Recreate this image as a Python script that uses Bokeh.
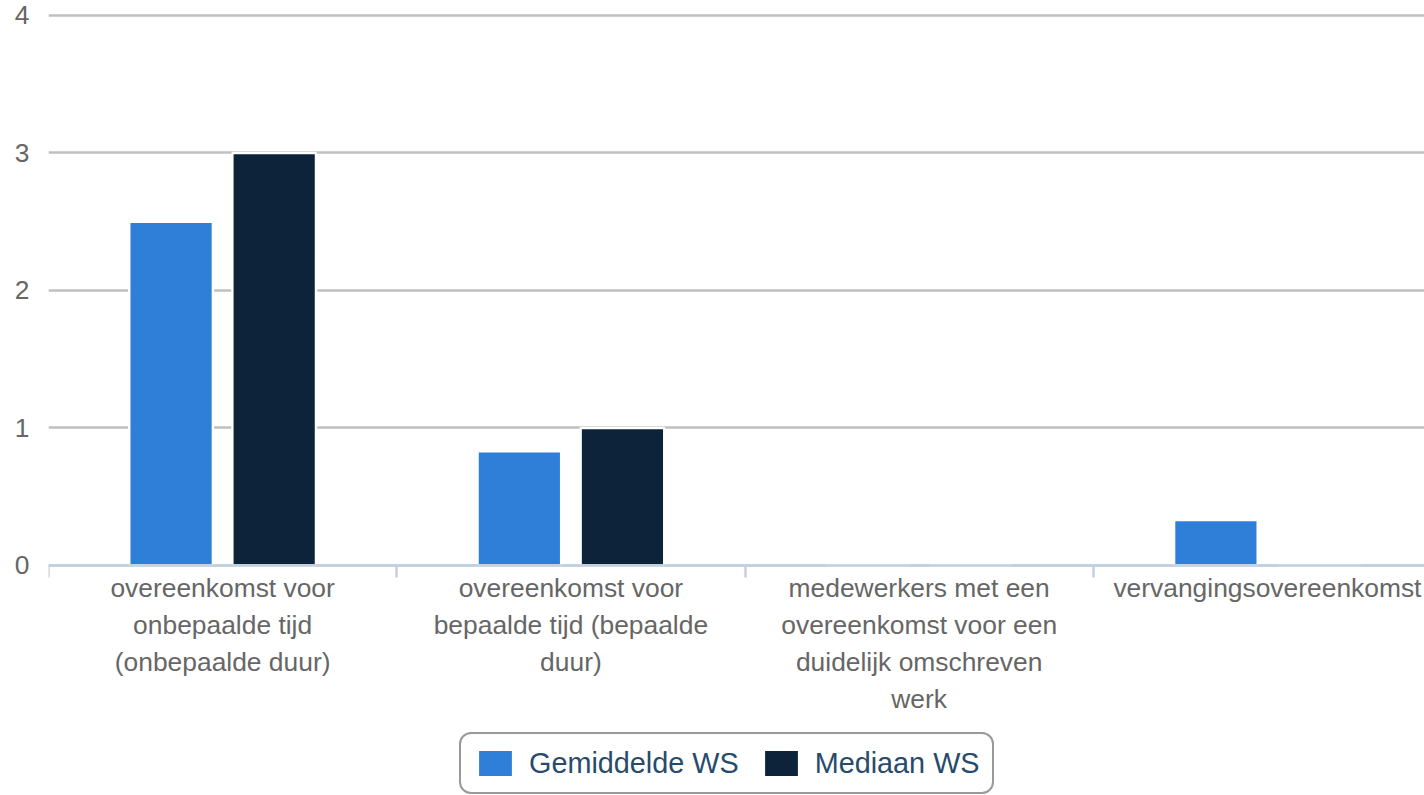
from bokeh.plotting import figure
from bokeh.models import (Range1d, FixedTicker, Legend, LegendItem,
                          ColumnDataSource)
from bokeh.transform import dodge
from bokeh.embed import file_html
from bokeh.resources import INLINE

categories = [
    "overeenkomst voor\nonbepaalde tijd\n(onbepaalde duur)",
    "overeenkomst voor\nbepaalde tijd (bepaalde\nduur)",
    "medewerkers met een\novereenkomst voor een\nduidelijk omschreven\nwerk",
    "vervangingsovereenkomst",
]
gemiddelde_ws = [2.5, 0.83, 0.0, 0.33]
mediaan_ws = [3.0, 1.0, 0.0, 0.0]
y_ticks = [0, 1, 2, 3, 4]

FONT = "Liberation Sans"
idx = list(range(len(categories)))
src = ColumnDataSource(dict(x=idx, gem=gemiddelde_ws, med=mediaan_ws))

# frame covers the whole lower area; the x axis is pinned at y = 0
p = figure(width=1424, height=795, output_backend="svg", toolbar_location=None,
           x_range=Range1d(-0.5, 3.451), y_range=Range1d(-1.6727, 4.036),
           min_border_left=48, min_border_top=10, min_border_right=0,
           min_border_bottom=0)
p.outline_line_color = None
p.background_fill_color = "white"
p.border_fill_color = "white"

r1 = p.vbar(x=dodge("x", -0.148, range=p.x_range), top="gem", width=0.24,
            source=src, fill_color="#2f7ed8", line_color="white", line_width=2.4)
r2 = p.vbar(x=dodge("x", 0.148, range=p.x_range), top="med", width=0.24,
            source=src, fill_color="#0d233a", line_color="white", line_width=2.4)

# x axis
xa = p.xaxis[0]
xa.fixed_location = 0
xa.ticker = FixedTicker(ticks=idx, minor_ticks=[i - 0.5 for i in idx])
xa.major_label_overrides = {i: c for i, c in zip(idx, categories)}
xa.axis_line_color = "#c0d0e0"
xa.axis_line_width = 2.4
xa.major_tick_line_color = None
xa.major_tick_out = 12
xa.major_tick_in = 0
xa.minor_tick_line_color = "#c0d0e0"
xa.minor_tick_line_width = 2.4
xa.minor_tick_out = 12
xa.minor_tick_in = 0
xa.major_label_standoff = -4
xa.major_label_text_font = FONT
xa.major_label_text_font_size = "26.4px"
xa.major_label_text_color = "#666666"
xa.major_label_text_line_height = 1.23
xa.major_label_orientation = "horizontal"

# y axis
ya = p.yaxis[0]
ya.ticker = FixedTicker(ticks=y_ticks)
ya.axis_line_color = None
ya.major_tick_line_color = None
ya.minor_tick_line_color = None
ya.major_tick_out = 0
ya.major_tick_in = 0
ya.major_label_standoff = 19
ya.major_label_text_font = FONT
ya.major_label_text_font_size = "26.4px"
ya.major_label_text_color = "#666666"

p.xgrid.grid_line_color = None
p.ygrid.grid_line_color = "#c0c0c0"
p.ygrid.grid_line_width = 2.4

legend = Legend(items=[LegendItem(label="Gemiddelde WS", renderers=[r1]),
                       LegendItem(label="Mediaan WS", renderers=[r2])],
                orientation="horizontal", location=(411, 1))
legend.label_text_font = FONT
legend.label_text_font_size = "28.8px"
legend.label_text_color = "#274b6d"
legend.border_line_color = "#999999"
legend.border_line_alpha = 1.0
legend.border_line_width = 2.4
legend.background_fill_color = "white"
legend.background_fill_alpha = 1.0
legend.glyph_width = 44
legend.glyph_height = 34
legend.label_standoff = 12
legend.spacing = 20
legend.padding = 12
legend.margin = 0
try:
    legend.border_radius = 12
except Exception:
    pass
p.add_layout(legend, "center")

open("out.html", "w").write(file_html(p, INLINE))
